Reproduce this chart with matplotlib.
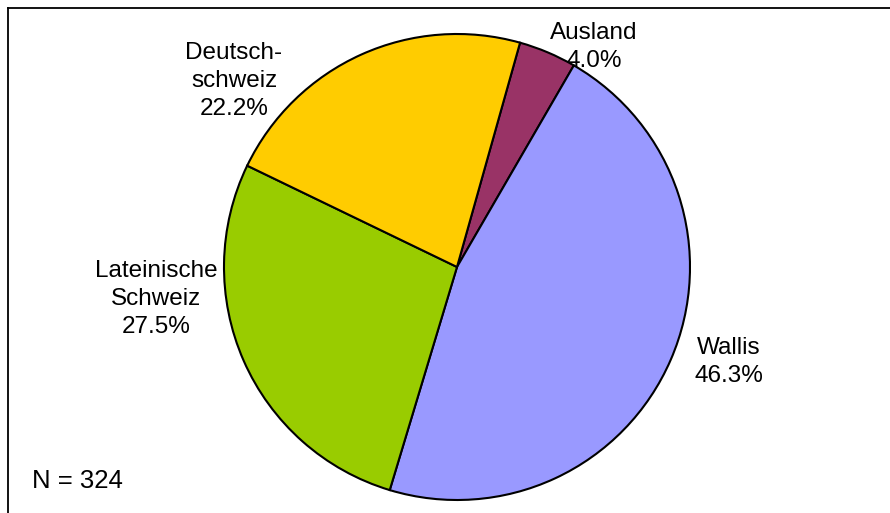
import matplotlib
matplotlib.use("Agg")
import matplotlib.pyplot as plt
from matplotlib.lines import Line2D

categories = ["Ausland", "Wallis", "Lateinische\nSchweiz", "Deutsch-\nschweiz"]
values = [4.0, 46.3, 27.5, 22.2]
colors = ["#993366", "#9999FF", "#99CC00", "#FFCC00"]
n_total = 324

W, H = 890, 513
fig = plt.figure(figsize=(W / 100, H / 100), dpi=100)
plt.rcParams['font.family'] = ['Liberation Sans', 'DejaVu Sans']

cx, cy, r = 457, 267, 233
ax = fig.add_axes([(cx - r) / W, 1 - (cy + r) / H, 2 * r / W, 2 * r / H])
ax.pie(values, colors=colors, startangle=74.3, counterclock=False,
       wedgeprops=dict(edgecolor="black", linewidth=1.5), radius=1.0)
ax.set_xlim(-1, 1)
ax.set_ylim(-1, 1)
ax.set_aspect("auto")
ax.axis("off")

# label positions (pixel centers)
label_pos = [(594, 47), (729, 362), (156, 299), (234, 81)]
for cat, v, (px, py) in zip(categories, values, label_pos):
    fig.text(px / W, 1 - py / H, f"{cat}\n{v:.1f}%", ha="center", va="center",
             fontsize=17.5, linespacing=1.33, color="black")

fig.text(32 / W, 1 - 481 / H, f"N = {n_total}", ha="left", va="center", fontsize=18.5)

# partial frame (top and left)
fig.add_artist(Line2D([8 / W, 1], [1 - 7.5 / H, 1 - 7.5 / H], transform=fig.transFigure,
                      color="black", linewidth=1.3))
fig.add_artist(Line2D([8 / W, 8 / W], [0, 1 - 7.5 / H], transform=fig.transFigure,
                      color="black", linewidth=1.3))

fig.savefig("out.png", dpi=100, facecolor="white")
